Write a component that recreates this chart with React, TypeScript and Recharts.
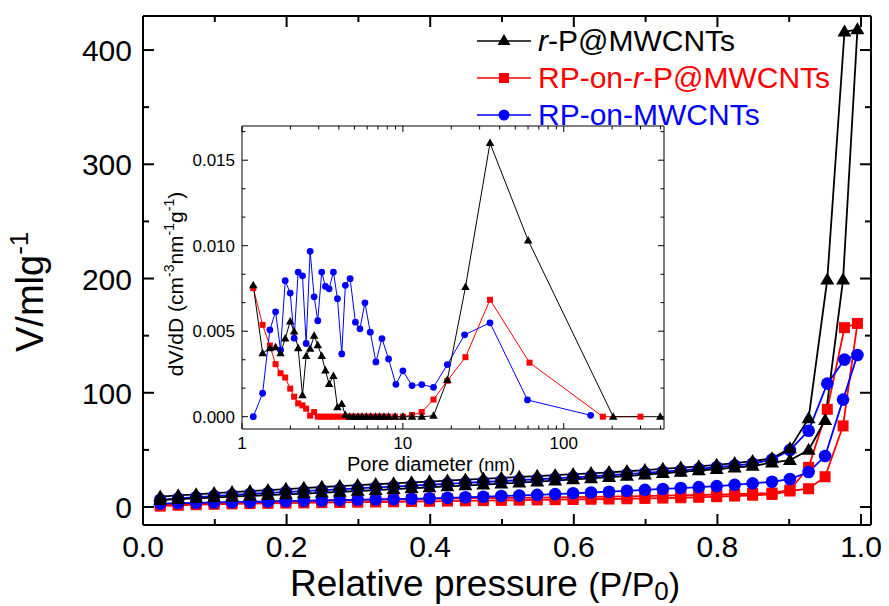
import React from 'react';
import { LineChart, Line, XAxis, YAxis, Legend, Label } from 'recharts';

const FONT = '"Liberation Sans", Arial, Helvetica, sans-serif';
const BLACK = '#000000';
const RED = '#ff0000';
const BLUE = '#0000ff';

const SERIES_NAMES = ['r-P@MWCNTs', 'RP-on-r-P@MWCNTs', 'RP-on-MWCNTs'];

// isotherm: relative pressure of the adsorption and desorption points
const adsP = [0.024, 0.049, 0.074, 0.099, 0.124, 0.149, 0.174, 0.199, 0.224, 0.249, 0.274, 0.299, 0.324, 0.349, 0.374, 0.399, 0.424, 0.449, 0.474, 0.499, 0.524, 0.549, 0.574, 0.599, 0.624, 0.649, 0.674, 0.699, 0.724, 0.749, 0.774, 0.799, 0.824, 0.849, 0.876, 0.901, 0.927, 0.95, 0.975, 0.995];
const desP = [0.977, 0.953, 0.927, 0.901, 0.876, 0.849, 0.824, 0.799, 0.774, 0.749, 0.724, 0.699, 0.674, 0.649, 0.624, 0.599, 0.574, 0.549, 0.524, 0.499, 0.474, 0.449, 0.424, 0.399, 0.374, 0.349, 0.324, 0.299, 0.274, 0.249, 0.224, 0.199, 0.174, 0.149, 0.124, 0.099, 0.074, 0.049, 0.024];

const rpAds = [6.0, 6.9, 7.6, 8.3, 9.0, 9.7, 10.4, 11.1, 11.8, 12.5, 13.2, 14.0, 14.8, 15.6, 16.4, 17.2, 18.0, 18.8, 19.6, 20.4, 21.3, 22.2, 23.1, 24.1, 25.1, 26.1, 27.1, 28.3, 29.5, 30.7, 31.9, 33.1, 34.4, 35.9, 38.8, 41.0, 49.9, 76, 199, 418];
const rpDes = [416, 199, 77.6, 51.3, 42.6, 40.2, 38.4, 36.9, 35.6, 34.4, 33.3, 32.3, 31.3, 30.4, 29.5, 28.7, 27.9, 27.1, 26.3, 25.5, 24.7, 23.9, 23.1, 22.3, 21.5, 20.7, 19.9, 19.1, 18.3, 17.5, 16.6, 15.7, 14.8, 13.9, 13.0, 12.1, 11.1, 10.1, 9.0];

const rpOnRpAds = [0.8, 1.5, 2.0, 2.4, 2.7, 3.0, 3.2, 3.4, 3.6, 3.8, 4.0, 4.2, 4.4, 4.6, 4.8, 5.0, 5.2, 5.4, 5.6, 5.8, 6.0, 6.2, 6.4, 6.6, 6.8, 7.0, 7.2, 7.5, 7.8, 8.1, 8.5, 9.0, 9.6, 10.3, 11.0, 14.0, 16.0, 26.5, 71, 160.7];
const rpOnRpDes = [157, 85.5, 34.7, 14.9, 12.2, 11.8, 11.3, 10.9, 10.5, 10.2, 9.9, 9.6, 9.3, 9.1, 8.9, 8.7, 8.5, 8.3, 8.1, 7.9, 7.7, 7.5, 7.3, 7.1, 6.9, 6.7, 6.5, 6.3, 6.0, 5.7, 5.4, 5.1, 4.8, 4.4, 4.0, 3.6, 3.1, 2.6, 2.0];

const rpOnCntAds = [3.0, 3.4, 3.7, 4.0, 4.2, 4.5, 4.8, 5.1, 5.4, 5.7, 6.0, 6.3, 6.6, 6.9, 7.2, 7.6, 8.0, 8.5, 9.0, 9.6, 10.1, 10.6, 11.3, 12.0, 12.7, 13.4, 14.2, 15.0, 15.8, 16.6, 17.4, 18.3, 19.4, 20.7, 22.1, 24.5, 30.6, 44.6, 94, 133];
const rpOnCntDes = [129, 108, 66.8, 49.9, 41.5, 38.0, 36.3, 34.8, 33.4, 32.1, 30.9, 29.8, 28.8, 27.8, 26.9, 26.0, 25.1, 24.3, 23.5, 22.7, 21.9, 21.1, 20.3, 19.5, 18.7, 17.9, 17.1, 16.3, 15.5, 14.7, 13.9, 13.1, 12.3, 11.4, 10.5, 9.6, 8.6, 7.5, 6.3];

// inset: pore size distribution
const rpPoreD = [1.175, 1.343, 1.49, 1.617, 1.736, 1.856, 1.994, 2.11, 2.234, 2.377, 2.505, 2.652, 2.808, 2.958, 3.13, 3.3, 3.48, 3.7, 3.92, 4.17, 4.39, 4.67, 4.94, 5.26, 5.57, 5.93, 6.31, 6.75, 7.17, 7.63, 8.15, 8.95, 10.0, 11.4, 13.1, 15.5, 18.9, 24.5, 34.8, 60.1, 203, 398];
const rpPoreV = [0.00768, 0.00371, 0.004, 0.00406, 0.00371, 0.00457, 0.00557, 0.00498, 0.004, 0.00125, 0.00355, 0.00398, 0.00473, 0.00418, 0.00355, 0.0027, 0.00191, 0.00238, 0.00055, 0.00074, 0.0001, 0, 0, 0, 0, 0, 0, 0, 0, 0, 0, 0, 0, 0, 0, 0.00005, 0.00215, 0.00758, 0.016, 0.01031, 0, 0];

const rpOnRpPoreD = [1.175, 1.343, 1.49, 1.617, 1.736, 1.856, 1.994, 2.11, 2.234, 2.377, 2.505, 2.652, 2.808, 2.958, 3.13, 3.3, 3.48, 3.7, 3.92, 4.17, 4.39, 4.67, 4.94, 5.26, 5.57, 5.93, 6.31, 6.75, 7.17, 7.63, 8.15, 8.95, 10.0, 11.4, 13.1, 15.5, 18.9, 24.5, 34.8, 61.3, 175, 300];
const rpOnRpPoreV = [0.00752, 0.00537, 0.00416, 0.00307, 0.00254, 0.00229, 0.00164, 0.00117, 0.00078, 0.00066, 0.00047, 0.00006, 0.00027, 0, 0, 0, 0, 0, 0, 0, 0, 0, 0, 0, 0, 0, 0, 0, 0, 0, 0, 0, 0, 0.0001, 0.00027, 0.001, 0.0021, 0.00348, 0.00684, 0.00316, 0, 0];

const rpOnCntPoreD = [1.175, 1.343, 1.49, 1.617, 1.736, 1.856, 1.994, 2.11, 2.234, 2.377, 2.505, 2.652, 2.808, 2.958, 3.13, 3.3, 3.48, 3.7, 3.92, 4.17, 4.39, 4.7, 5.07, 5.41, 5.81, 6.27, 6.8, 7.41, 8.15, 9.05, 10.0, 11.4, 13.1, 15.5, 18.9, 24.2, 34.8, 59.5, 147];
const rpOnCntPoreV = [0, 0.00137, 0.00508, 0.00613, 0.0039, 0.00795, 0.00723, 0.00459, 0.00846, 0.00824, 0.00428, 0.00967, 0.00701, 0.00561, 0.00846, 0.00762, 0.00748, 0.00846, 0.0069, 0.00367, 0.00768, 0.00807, 0.00553, 0.00514, 0.00666, 0.00494, 0.0032, 0.00457, 0.00338, 0.00189, 0.00268, 0.00182, 0.00188, 0.00172, 0.00305, 0.00479, 0.00549, 0.00098, 0.00008];

// ticks
const xTicks = [0, 0.1, 0.2, 0.3, 0.4, 0.5, 0.6, 0.7, 0.8, 0.9, 1.0];
const yTicks = [0, 50, 100, 150, 200, 250, 300, 350, 400];
const poreTicks = [1, 2, 3, 4, 5, 6, 7, 8, 9, 10, 20, 30, 40, 50, 60, 70, 80, 90, 100, 200, 300, 400];
const dvTicks = [0, 0.00167, 0.00333, 0.005, 0.00667, 0.00833, 0.01, 0.01167, 0.01333, 0.015, 0.01667];

const iso = (ads: number[], des: number[]) => [
  ...adsP.map((p, i) => ({ p, v: ads[i] })),
  ...desP.map((p, i) => ({ p, v: des[i] })),
];
const psd = (d: number[], v: number[]) => d.map((x, i) => ({ d: x, v: v[i] }));

const ok = (n: any) => typeof n === 'number' && Number.isFinite(n);

const triDot = (w: number, h: number, color: string) => (props: any) => {
  const { cx, cy, index } = props;
  if (!ok(cx) || !ok(cy)) return <g key={`t${index}`} />;
  return (
    <path
      key={`t${index}`}
      d={`M${cx},${cy - h * 0.6}L${cx + w / 2},${cy + h * 0.4}L${cx - w / 2},${cy + h * 0.4}Z`}
      fill={color}
    />
  );
};
const squareDot = (s: number, color: string) => (props: any) => {
  const { cx, cy, index } = props;
  if (!ok(cx) || !ok(cy)) return <g key={`s${index}`} />;
  return <rect key={`s${index}`} x={cx - s / 2} y={cy - s / 2} width={s} height={s} fill={color} />;
};
const circleDot = (r: number, color: string) => (props: any) => {
  const { cx, cy, index } = props;
  if (!ok(cx) || !ok(cy)) return <g key={`c${index}`} />;
  return <circle key={`c${index}`} cx={cx} cy={cy} r={r} fill={color} />;
};

// ---- main axis ticks (drawn inward) ----
function MainBottomTick({ x, y, payload }: any) {
  const v = payload.value;
  const major = Math.round(v * 10) % 2 === 0;
  return (
    <g>
      <line x1={x} x2={x} y1={y} y2={y - (major ? 11 : 6)} stroke={BLACK} strokeWidth={2} />
      {major && (
        <text x={x} y={y + 32} textAnchor="middle" fontSize={30} fontFamily={FONT} fill={BLACK}>
          {v.toFixed(1)}
        </text>
      )}
    </g>
  );
}
function MainTopTick({ x, y, payload }: any) {
  const major = Math.round(payload.value * 10) % 2 === 0;
  return <line x1={x} x2={x} y1={y} y2={y + (major ? 11 : 6)} stroke={BLACK} strokeWidth={2} />;
}
function MainLeftTick({ x, y, payload }: any) {
  const v = payload.value;
  const major = v % 100 === 0;
  return (
    <g>
      <line x1={x} x2={x + (major ? 11 : 6)} y1={y} y2={y} stroke={BLACK} strokeWidth={2} />
      {major && (
        <text x={x - 11} y={y + 11} textAnchor="end" fontSize={30} fontFamily={FONT} fill={BLACK}>
          {v}
        </text>
      )}
    </g>
  );
}
function MainRightTick({ x, y, payload }: any) {
  const major = payload.value % 100 === 0;
  return <line x1={x} x2={x - (major ? 11 : 6)} y1={y} y2={y} stroke={BLACK} strokeWidth={2} />;
}

// ---- inset axis ticks ----
const isDecade = (v: number) => Math.abs(Math.log10(v) - Math.round(Math.log10(v))) < 1e-6;
const isDvMajor = (v: number) => Math.abs(v / 0.005 - Math.round(v / 0.005)) < 1e-3;

function InsetBottomTick({ x, y, payload }: any) {
  const v = payload.value;
  const major = isDecade(v);
  return (
    <g>
      <line x1={x} x2={x} y1={y} y2={y - (major ? 6 : 3.5)} stroke={BLACK} strokeWidth={1} />
      {major && (
        <text x={x} y={y + 20} textAnchor="middle" fontSize={17} fontFamily={FONT} fill={BLACK}>
          {v}
        </text>
      )}
    </g>
  );
}
function InsetTopTick({ x, y, payload }: any) {
  const major = isDecade(payload.value);
  return <line x1={x} x2={x} y1={y} y2={y + (major ? 6 : 3.5)} stroke={BLACK} strokeWidth={1} />;
}
function InsetLeftTick({ x, y, payload }: any) {
  const v = payload.value;
  const major = isDvMajor(v);
  return (
    <g>
      <line x1={x} x2={x + (major ? 6 : 3.5)} y1={y} y2={y} stroke={BLACK} strokeWidth={1} />
      {major && (
        <text x={x - 7} y={y + 6} textAnchor="end" fontSize={17} fontFamily={FONT} fill={BLACK}>
          {v.toFixed(3)}
        </text>
      )}
    </g>
  );
}
function InsetRightTick({ x, y, payload }: any) {
  const major = isDvMajor(payload.value);
  return <line x1={x} x2={x - (major ? 6 : 3.5)} y1={y} y2={y} stroke={BLACK} strokeWidth={1} />;
}

function renderName(name: string) {
  const parts = name.split('r-P');
  return parts.map((part, i) => (
    <React.Fragment key={i}>
      {i > 0 && (
        <>
          <i>r</i>-P
        </>
      )}
      {part}
    </React.Fragment>
  ));
}

function LegendBox({ payload }: any) {
  const items = SERIES_NAMES.map((n) => (payload || []).find((e: any) => e.value === n)).filter(Boolean);
  return (
    <div style={{ fontFamily: FONT, fontSize: 30 }}>
      {items.map((e: any, i: number) => {
        const idx = SERIES_NAMES.indexOf(e.value);
        return (
          <div key={i} style={{ display: 'flex', alignItems: 'center', height: 37, whiteSpace: 'nowrap' }}>
            <svg width={54} height={37}>
              <line x1={0} x2={54} y1={19} y2={19} stroke={e.color} strokeWidth={1.5} />
              {idx === 0 && <path d="M27,12 L33.5,23 L20.5,23 Z" fill={e.color} />}
              {idx === 1 && <rect x={22} y={14} width={10} height={10} fill={e.color} />}
              {idx === 2 && <circle cx={27} cy={19} r={5.5} fill={e.color} />}
            </svg>
            <span style={{ marginLeft: 7, color: e.color, lineHeight: '37px' }}>{renderName(e.value)}</span>
          </div>
        );
      })}
    </div>
  );
}

const XTitle = () => (
  <text x={290} y={596} fontSize={37} fontFamily={FONT} fill={BLACK}>
    Relative pressure{' '}
    <tspan fontSize={34}>(P/P</tspan>
    <tspan fontSize={26} dy={4}>0</tspan>
    <tspan fontSize={34} dy={-4}>)</tspan>
  </text>
);
const YTitle = () => (
  <text transform="rotate(-90)" x={-352} y={43} fontSize={38} fontFamily={FONT} fill={BLACK}>
    V/mlg
    <tspan fontSize={26} dy={-15}>-1</tspan>
  </text>
);
const PoreTitle = () => (
  <text x={347} y={471} fontSize={20} fontFamily={FONT} fill={BLACK}>
    Pore diameter <tspan fontSize={18}>(nm)</tspan>
  </text>
);
const DvTitle = () => (
  <text transform="rotate(-90)" x={-284} y={183} textAnchor="middle" fontSize={21} fontFamily={FONT} fill={BLACK}>
    dV/dD (cm
    <tspan fontSize={14} dy={-9}>-3</tspan>
    <tspan dy={9}>nm</tspan>
    <tspan fontSize={14} dy={-9}>-1</tspan>
    <tspan dy={9}>g</tspan>
    <tspan fontSize={14} dy={-9}>-1</tspan>
    <tspan dy={9}>)</tspan>
  </text>
);

export default function App() {
  return (
    <div style={{ position: 'absolute', left: 0, top: 0, width: 889, height: 606, background: '#fff' }}>
      <div style={{ position: 'absolute', left: 0, top: 0 }}>
        <LineChart width={889} height={606} margin={{ top: 15, right: 17, bottom: 50, left: 83 }}>
          <XAxis
            dataKey="p"
            type="number"
            domain={[0, 1.0139]}
            allowDataOverflow
            ticks={xTicks}
            interval={0}
            tick={<MainBottomTick />}
            tickLine={false}
            tickSize={0}
            tickMargin={0}
            height={31}
            axisLine={{ stroke: BLACK, strokeWidth: 2 }}
          >
            <Label content={XTitle} />
          </XAxis>
          <XAxis
            xAxisId="top"
            orientation="top"
            dataKey="p"
            type="number"
            domain={[0, 1.0139]}
            allowDataOverflow
            ticks={xTicks}
            interval={0}
            tick={<MainTopTick />}
            tickLine={false}
            tickSize={0}
            tickMargin={0}
            height={1}
            axisLine={{ stroke: BLACK, strokeWidth: 2 }}
          />
          <YAxis
            type="number"
            domain={[-15.75, 429.8]}
            allowDataOverflow
            ticks={yTicks}
            interval={0}
            tick={<MainLeftTick />}
            tickLine={false}
            tickSize={0}
            tickMargin={0}
            width={60}
            axisLine={{ stroke: BLACK, strokeWidth: 2 }}
          >
            <Label content={YTitle} />
          </YAxis>
          <YAxis
            yAxisId="right"
            orientation="right"
            type="number"
            domain={[-15.75, 429.8]}
            allowDataOverflow
            ticks={yTicks}
            interval={0}
            tick={<MainRightTick />}
            tickLine={false}
            tickSize={0}
            tickMargin={0}
            width={1}
            axisLine={{ stroke: BLACK, strokeWidth: 2 }}
          />
          <Legend
            layout="vertical"
            align="center"
            verticalAlign="middle"
            content={<LegendBox />}
            wrapperStyle={{ left: 477, top: 22, width: 400, height: 112 }}
          />
          <Line
            name={SERIES_NAMES[1]}
            data={iso(rpOnRpAds, rpOnRpDes)}
            dataKey="v"
            type="linear"
            stroke={RED}
            strokeWidth={1.8}
            dot={squareDot(11, RED)}
            activeDot={false}
            isAnimationActive={false}
          />
          <Line
            name={SERIES_NAMES[2]}
            data={iso(rpOnCntAds, rpOnCntDes)}
            dataKey="v"
            type="linear"
            stroke={BLUE}
            strokeWidth={1.8}
            dot={circleDot(6.3, BLUE)}
            activeDot={false}
            isAnimationActive={false}
          />
          <Line
            name={SERIES_NAMES[0]}
            data={iso(rpAds, rpDes)}
            dataKey="v"
            type="linear"
            stroke={BLACK}
            strokeWidth={1.8}
            dot={triDot(14, 12, BLACK)}
            activeDot={false}
            isAnimationActive={false}
          />
        </LineChart>
      </div>

      <div style={{ position: 'absolute', left: 0, top: 0 }}>
        <LineChart width={700} height={480} margin={{ top: 125, right: 35, bottom: 21, left: 202 }}>
          <XAxis
            dataKey="d"
            type="number"
            scale="log"
            domain={[1, 420]}
            allowDataOverflow
            ticks={poreTicks}
            interval={0}
            tick={<InsetBottomTick />}
            tickLine={false}
            tickSize={0}
            tickMargin={0}
            height={30}
            axisLine={{ stroke: BLACK, strokeWidth: 1 }}
          >
            <Label content={PoreTitle} />
          </XAxis>
          <XAxis
            xAxisId="top"
            orientation="top"
            dataKey="d"
            type="number"
            scale="log"
            domain={[1, 420]}
            allowDataOverflow
            ticks={poreTicks}
            interval={0}
            tick={<InsetTopTick />}
            tickLine={false}
            tickSize={0}
            tickMargin={0}
            height={1}
            axisLine={{ stroke: BLACK, strokeWidth: 1 }}
          />
          <YAxis
            type="number"
            domain={[-0.00072, 0.017]}
            allowDataOverflow
            ticks={dvTicks}
            interval={0}
            tick={<InsetLeftTick />}
            tickLine={false}
            tickSize={0}
            tickMargin={0}
            width={40}
            axisLine={{ stroke: BLACK, strokeWidth: 1 }}
          >
            <Label content={DvTitle} />
          </YAxis>
          <YAxis
            yAxisId="right"
            orientation="right"
            type="number"
            domain={[-0.00072, 0.017]}
            allowDataOverflow
            ticks={dvTicks}
            interval={0}
            tick={<InsetRightTick />}
            tickLine={false}
            tickSize={0}
            tickMargin={0}
            width={1}
            axisLine={{ stroke: BLACK, strokeWidth: 1 }}
          />
          <Line
            data={psd(rpOnRpPoreD, rpOnRpPoreV)}
            dataKey="v"
            type="linear"
            stroke={RED}
            strokeWidth={1}
            dot={squareDot(6, RED)}
            activeDot={false}
            isAnimationActive={false}
          />
          <Line
            data={psd(rpOnCntPoreD, rpOnCntPoreV)}
            dataKey="v"
            type="linear"
            stroke={BLUE}
            strokeWidth={1}
            dot={circleDot(3.4, BLUE)}
            activeDot={false}
            isAnimationActive={false}
          />
          <Line
            data={psd(rpPoreD, rpPoreV)}
            dataKey="v"
            type="linear"
            stroke={BLACK}
            strokeWidth={1}
            dot={triDot(8.5, 7.5, BLACK)}
            activeDot={false}
            isAnimationActive={false}
          />
        </LineChart>
      </div>
    </div>
  );
}
